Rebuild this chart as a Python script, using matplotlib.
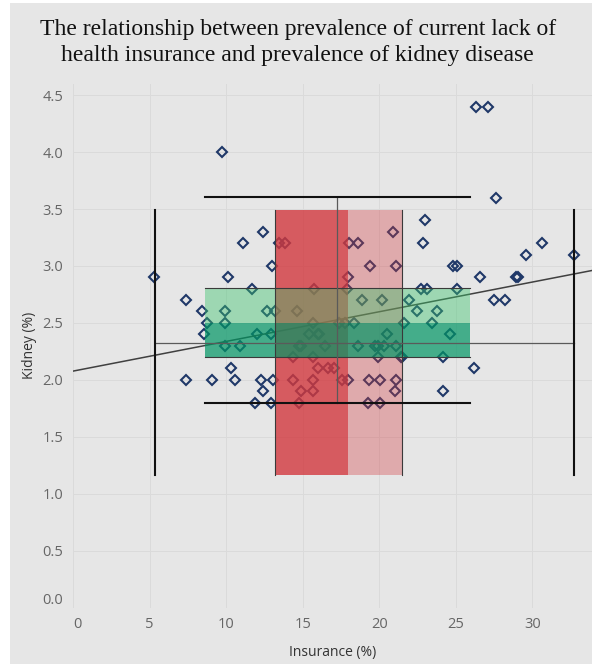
import numpy as np
import matplotlib.pyplot as plt
from matplotlib.patches import Rectangle

# scatter data: insurance (%) vs kidney (%)
insurance = [9.70, 26.32, 27.12, 27.63, 23.0, 12.42, 20.92, 11.09, 13.46, 13.84,
             18.0, 18.6, 22.84, 30.61, 29.59, 32.7, 13.0, 19.39, 21.09, 24.8,
             25.06, 5.32, 10.11, 17.95, 26.6, 28.93, 29.05, 11.72, 15.73, 17.87,
             22.73, 23.1, 25.08, 7.39, 18.9, 20.18, 21.92, 27.5, 28.24, 8.41,
             9.94, 12.64, 13.2, 14.6, 22.44, 23.79, 8.78, 9.94, 15.65, 17.37,
             17.76, 18.33, 21.63, 23.44, 8.56, 12.03, 12.92, 15.42, 16.0, 16.1,
             20.52, 24.64, 9.96, 10.9, 14.77, 14.9, 16.45, 18.63, 19.72, 19.93,
             20.31, 21.09, 14.34, 15.65, 19.9, 21.45, 21.52, 24.18, 10.33, 16.01,
             16.67, 17.04, 26.19, 7.39, 9.05, 10.61, 12.29, 13.07, 14.34, 15.65,
             17.56, 17.95, 19.31, 20.03, 21.09, 12.4, 14.9, 15.65, 21.05, 24.14,
             11.92, 12.92, 14.73, 19.24, 20.03]
kidney = [4.0, 4.4, 4.4, 3.6, 3.4, 3.3, 3.3, 3.2, 3.2, 3.2,
          3.2, 3.2, 3.2, 3.2, 3.1, 3.1, 3.0, 3.0, 3.0, 3.0,
          3.0, 2.9, 2.9, 2.9, 2.9, 2.9, 2.9, 2.8, 2.8, 2.8,
          2.8, 2.8, 2.8, 2.7, 2.7, 2.7, 2.7, 2.7, 2.7, 2.6,
          2.6, 2.6, 2.6, 2.6, 2.6, 2.6, 2.5, 2.5, 2.5, 2.5,
          2.5, 2.5, 2.5, 2.5, 2.4, 2.4, 2.4, 2.4, 2.4, 2.4,
          2.4, 2.4, 2.3, 2.3, 2.3, 2.3, 2.3, 2.3, 2.3, 2.3,
          2.3, 2.3, 2.2, 2.2, 2.2, 2.2, 2.2, 2.2, 2.1, 2.1,
          2.1, 2.1, 2.1, 2.0, 2.0, 2.0, 2.0, 2.0, 2.0, 2.0,
          2.0, 2.0, 2.0, 2.0, 2.0, 1.9, 1.9, 1.9, 1.9, 1.9,
          1.8, 1.8, 1.8, 1.8, 1.8]

# box plot summaries (whisker low, Q1, median, Q3, whisker high)
insurance_box = [5.33, 13.18, 17.93, 21.5, 32.7]
kidney_box = [1.80, 2.20, 2.50, 2.81, 3.61]

x_ticks = [0, 5, 10, 15, 20, 25, 30]
y_ticks = [0.0, 0.5, 1.0, 1.5, 2.0, 2.5, 3.0, 3.5, 4.0, 4.5]

bg = '#e6e6e6'
fig = plt.figure(figsize=(5.92, 6.64), dpi=100, facecolor=bg)
# white margins of the export
fig.patches.append(Rectangle((0, 0), 10 / 592, 1, transform=fig.transFigure, facecolor='white', edgecolor='none'))
fig.patches.append(Rectangle((0, 1 - 3 / 664), 1, 3 / 664, transform=fig.transFigure, facecolor='white', edgecolor='none'))

ax = fig.add_axes([73 / 592, 56.5 / 664, 1 - 73 / 592, 523.7 / 664])
ax.set_facecolor(bg)
ax.set_xlim(0, 33.9)
ax.set_ylim(0, 4.6)

# points
ax.plot(insurance, kidney, linestyle='none', marker='D', markersize=5.4,
        markerfacecolor='none', markeredgecolor='#1f3868', markeredgewidth=1.5, zorder=2)

# trend line
slope, intercept = np.polyfit(insurance, kidney, 1)
xs = np.array([0, 33.9])
ax.plot(xs, intercept + slope * xs, color='#404040', linewidth=1.1, zorder=2.5)

# insurance box plot (vertical band)
ib_lo, ib_hi = 1.165, 3.49
ib_mid = (ib_lo + ib_hi) / 2
red = '#d2383e'
ax.add_patch(Rectangle((insurance_box[1], ib_lo), insurance_box[2] - insurance_box[1], ib_hi - ib_lo,
                       facecolor=red, alpha=0.8, edgecolor='none', zorder=3))
ax.add_patch(Rectangle((insurance_box[2], ib_lo), insurance_box[3] - insurance_box[2], ib_hi - ib_lo,
                       facecolor=red, alpha=0.34, edgecolor='none', zorder=3))

# kidney box plot (horizontal band)
kb_lo, kb_hi = 8.6, 25.9
kb_mid = (kb_lo + kb_hi) / 2
ax.add_patch(Rectangle((kb_lo, kidney_box[1]), kb_hi - kb_lo, kidney_box[2] - kidney_box[1],
                       facecolor='#009564', alpha=0.7, edgecolor='none', zorder=4))
ax.add_patch(Rectangle((kb_lo, kidney_box[2]), kb_hi - kb_lo, kidney_box[3] - kidney_box[2],
                       facecolor='#3ac46c', alpha=0.42, edgecolor='none', zorder=4))

# box borders
for v in (insurance_box[1], insurance_box[3]):
    ax.plot([v, v], [ib_lo, ib_hi], color='#3a3a3a', linewidth=0.8, zorder=5)
for v in (kidney_box[1], kidney_box[3]):
    ax.plot([kb_lo, kb_hi], [v, v], color='#3a3a3a', linewidth=0.8, zorder=5)

# center lines and whiskers
ax.plot([insurance_box[0], insurance_box[4]], [ib_mid, ib_mid], color='#5a5a5a', linewidth=0.9, zorder=5)
ax.plot([kb_mid, kb_mid], [kidney_box[0], kidney_box[4]], color='#5a5a5a', linewidth=0.9, zorder=5)
for v in (insurance_box[0], insurance_box[4]):
    ax.plot([v, v], [ib_lo, ib_hi], color='#111111', linewidth=1.5, zorder=5)
for v in (kidney_box[0], kidney_box[4]):
    ax.plot([kb_lo, kb_hi], [v, v], color='#111111', linewidth=1.5, zorder=5)

# axes styling
for s in ax.spines.values():
    s.set_visible(False)
ax.set_xticks(x_ticks)
ax.set_yticks(y_ticks)
ax.set_yticklabels([f'{v:.1f}' for v in y_ticks])
ax.grid(True, color='#dadada', linewidth=0.7, zorder=0)
ax.set_axisbelow(True)
ax.tick_params(length=0, labelsize=10.5, labelcolor='#666666', pad=7)
for lbl in ax.get_xticklabels():
    lbl.set_fontfamily('Open Sans')
for lbl in ax.get_yticklabels():
    lbl.set_fontfamily('Open Sans')
ax.get_xticklabels()[0].set_ha('left')
ax.get_yticklabels()[0].set_va('bottom')

ax.set_xlabel('Insurance (%)', fontsize=10, color='#333333', family='Open Sans', labelpad=9)
ax.set_ylabel('Kidney (%)', fontsize=10, color='#333333', family='Open Sans', labelpad=4)

fig.text(0.503, 0.936, 'The relationship between prevalence of current lack of\n'
         'health insurance and prevalence of kidney disease',
         ha='center', va='center', fontsize=17, family='Liberation Serif',
         color='#111111', linespacing=1.35)

fig.savefig('out.png', dpi=100, facecolor=fig.get_facecolor())
